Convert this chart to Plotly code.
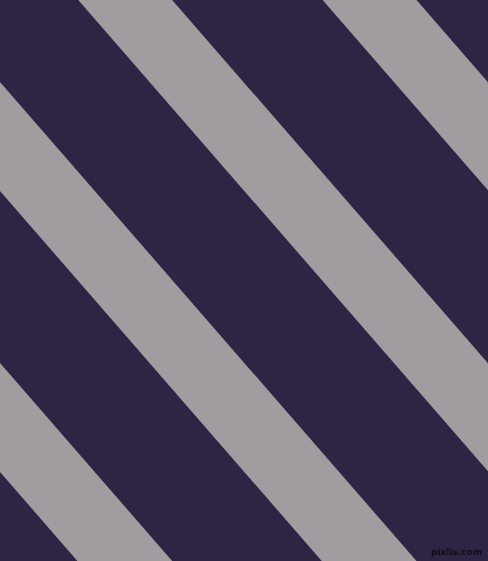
import plotly.graph_objects as go

# canvas size in pixels (axis units = pixels, y down)
width = 488
height = 561

# stripe edges as y-intercepts of y = slope * x + c
slope = 1.15
stripe_upper = [-479, -198, 82, 363]
stripe_lower = [-371, -90, 191, 472]

bg_color = "#2e2545"
stripe_color = "#a09c9f"

fig = go.Figure()

# each stripe drawn a bit wider than the canvas, the axes clip it
x_left = -60
x_right = width + 60
for c_up, c_low in zip(stripe_upper, stripe_lower):
    fig.add_trace(
        go.Scatter(
            x=[x_left, x_right, x_right, x_left, x_left],
            y=[
                slope * x_left + c_up,
                slope * x_right + c_up,
                slope * x_right + c_low,
                slope * x_left + c_low,
                slope * x_left + c_up,
            ],
            mode="lines",
            fill="toself",
            fillcolor=stripe_color,
            line=dict(width=0, color=stripe_color),
            hoverinfo="skip",
        )
    )

fig.add_annotation(
    x=484,
    y=559,
    text="<b>pixlis.com</b>",
    showarrow=False,
    xanchor="right",
    yanchor="bottom",
    font=dict(family="DejaVu Sans", size=9, color="#110d18"),
)

fig.update_xaxes(range=[0, width], visible=False, fixedrange=True)
fig.update_yaxes(range=[height, 0], visible=False, fixedrange=True)
fig.update_layout(
    width=width,
    height=height,
    margin=dict(l=0, r=0, t=0, b=0),
    showlegend=False,
    plot_bgcolor=bg_color,
    paper_bgcolor=bg_color,
)

fig.write_html(
    "out.html",
    config={"displayModeBar": False},
    post_script="document.body.style.margin='0px';document.body.style.overflow='hidden';",
)
